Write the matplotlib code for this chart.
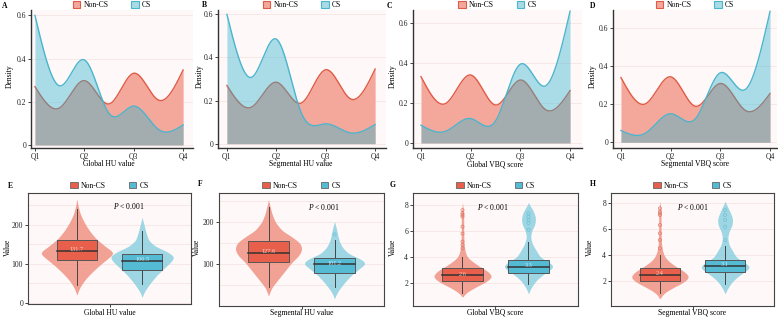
import numpy as np
import matplotlib
matplotlib.use("Agg")
import matplotlib.pyplot as plt
from matplotlib.patches import Patch, Rectangle

plt.rcParams['font.family'] = ['Liberation Serif', 'DejaVu Serif']
plt.rcParams['mathtext.fontset'] = 'custom'
plt.rcParams['mathtext.it'] = 'Liberation Serif:italic'
plt.rcParams['mathtext.rm'] = 'Liberation Serif'

# ---- density panels (A-D): values at Q1, Q1.5, Q2, ... Q4 ----
quartiles = ["Q1", "Q2", "Q3", "Q4"]
knot_x = [0, 0.5, 1, 1.5, 2, 2.5, 3]

a_noncs = [0.27, 0.172, 0.298, 0.19, 0.332, 0.208, 0.347]
a_cs = [0.60, 0.274, 0.394, 0.146, 0.18, 0.072, 0.093]
b_noncs = [0.27, 0.17, 0.285, 0.188, 0.343, 0.208, 0.346]
b_cs = [0.60, 0.308, 0.485, 0.146, 0.092, 0.05, 0.089]
c_noncs = [0.332, 0.198, 0.34, 0.19, 0.315, 0.168, 0.262]
c_cs = [0.089, 0.059, 0.122, 0.11, 0.394, 0.285, 0.659]
d_noncs = [0.34, 0.203, 0.344, 0.189, 0.309, 0.168, 0.256]
d_cs = [0.062, 0.049, 0.15, 0.124, 0.365, 0.277, 0.688]

top_titles = ["Global HU value", "Segmental HU value", "Global VBQ score", "Segmental VBQ score"]
top_letters = ["A", "B", "C", "D"]

# ---- violin panels (E-H) ----
# box stats: lower whisker, q1, median, q3, upper whisker
e_noncs_box = [46, 110, 133, 161, 241]
e_cs_box = [49, 85, 108, 126, 183]
f_noncs_box = [46, 105, 127, 155, 236]
f_cs_box = [46, 79, 100, 114, 157]
g_noncs_box = [1.2, 2.18, 2.6, 3.13, 4.0]
g_cs_box = [1.92, 2.75, 3.25, 3.77, 5.18]
h_noncs_box = [1.05, 2.02, 2.46, 2.97, 4.0]
h_cs_box = [1.77, 2.67, 3.15, 3.62, 4.69]

mean_labels = [["131.7", "106.5"], ["127.6", "101.2"], ["2.6", "3.3"], ["2.4", "3.1"]]

e_noncs_out = []
e_cs_out = []
f_noncs_out = []
f_cs_out = [171]
g_noncs_out = [7.6, 7.36, 7.23, 7.1, 6.33, 5.8, 5.18, 4.92, 4.67]
g_cs_out = [7.36, 7.1, 6.85, 6.6, 6.1]
h_noncs_out = [7.59, 7.33, 7.2, 7.08, 6.31, 5.67, 5.15, 4.51]
h_cs_out = [7.46, 7.08, 6.69, 6.18, 5.15]

# violin outlines: value knots and relative half-width
e_noncs_v = [21, 40, 60, 80, 100, 115, 128, 145, 165, 185, 205, 225, 240, 255, 264]
e_noncs_w = [0, .08, .22, .42, .65, .85, 1.0, .75, .5, .33, .2, .1, .05, .02, 0]
e_cs_v = [15, 30, 50, 70, 90, 105, 118, 130, 145, 160, 180, 200, 218]
e_cs_w = [0, .08, .25, .45, .7, .9, 1.0, .8, .4, .2, .12, .06, 0]
f_noncs_v = [26, 45, 65, 85, 105, 120, 135, 150, 165, 180, 200, 220, 240, 252]
f_noncs_w = [0, .1, .3, .5, .7, .9, 1.0, .95, .7, .4, .2, .1, .04, 0]
f_cs_v = [19, 35, 55, 75, 90, 102, 112, 125, 140, 155, 170, 185, 201]
f_cs_w = [0, .1, .3, .55, .8, 1.0, .85, .45, .25, .15, .1, .06, 0]
g_noncs_v = [0.95, 1.3, 1.7, 2.1, 2.5, 2.9, 3.3, 3.7, 4.0, 4.5, 5.0, 6.0, 7.0, 7.6, 8.15]
g_noncs_w = [0, .15, .45, .8, 1.0, .85, .55, .3, .15, .08, .05, .04, .04, .03, 0]
g_cs_v = [1.2, 1.7, 2.2, 2.7, 3.0, 3.3, 3.6, 4.0, 4.5, 5.0, 5.5, 6.0, 6.5, 7.0, 7.5, 8.15]
g_cs_w = [0, .12, .3, .6, .85, 1.0, .8, .45, .3, .15, .08, .12, .25, .28, .2, 0]
h_noncs_v = [0.67, 1.1, 1.5, 1.9, 2.3, 2.7, 3.1, 3.5, 3.9, 4.4, 5.0, 6.0, 7.0, 7.6, 8.1]
h_noncs_w = [0, .15, .45, .8, 1.0, .85, .55, .3, .15, .08, .05, .04, .04, .03, 0]
h_cs_v = [1.05, 1.5, 2.0, 2.5, 2.8, 3.1, 3.4, 3.8, 4.3, 4.8, 5.3, 5.8, 6.3, 6.8, 7.3, 8.1]
h_cs_w = [0, .12, .3, .6, .85, 1.0, .8, .45, .3, .15, .1, .15, .28, .3, .2, 0]

bottom_letters = ["E", "F", "G", "H"]

RED_LINE = '#E05B45'
RED_FILL = (244/255, 168/255, 156/255)
BLUE_LINE = '#4BB5CE'
BLUE_FILL = (43/255, 179/255, 203/255)
BG = '#FEF8F8'
GRID = '#F6E6E6'

W, H = 778, 319
fig = plt.figure(figsize=(W/100, H/100), dpi=100)


def add_ax(l, t, r, b):
    return fig.add_axes([l/W, 1 - b/H, (r - l)/W, (b - t)/H])


def spline(xk, yk, n=400):
    xk = np.asarray(xk, float)
    yk = np.asarray(yk, float)
    m = len(xk)
    h = np.diff(xk)
    A = np.zeros((m, m))
    rhs = np.zeros(m)
    A[0, 0] = A[-1, -1] = 1
    for i in range(1, m - 1):
        A[i, i-1] = h[i-1]
        A[i, i] = 2 * (h[i-1] + h[i])
        A[i, i+1] = h[i]
        rhs[i] = 6 * ((yk[i+1] - yk[i]) / h[i] - (yk[i] - yk[i-1]) / h[i-1])
    M = np.linalg.solve(A, rhs)
    xs = np.linspace(xk[0], xk[-1], n)
    idx = np.clip(np.searchsorted(xk, xs) - 1, 0, m - 2)
    x0, x1 = xk[idx], xk[idx+1]
    hh = x1 - x0
    t0, t1 = x1 - xs, xs - x0
    ys = (M[idx] * t0**3 + M[idx+1] * t1**3) / (6 * hh) \
        + (yk[idx] / hh - M[idx] * hh / 6) * t0 \
        + (yk[idx+1] / hh - M[idx+1] * hh / 6) * t1
    return xs, ys


def style_ax(ax):
    ax.set_facecolor(BG)
    ax.tick_params(labelsize=5.5, length=2, width=0.6, pad=1.5, colors='#222')
    ax.set_axisbelow(True)


# ---------------- top row ----------------
top_data = [(a_noncs, a_cs), (b_noncs, b_cs), (c_noncs, c_cs), (d_noncs, d_cs)]
top_boxes = [(31, 10, 193, 148), (218, 10, 386, 148), (413, 10, 582, 148), (613, 10, 777, 148)]
top_xlim = [(-0.08, 3.2), (-0.18, 3.22), (-0.16, 3.24), (-0.16, 3.14)]
top_ylim = [(-0.014, 0.625), (-0.02, 0.62), (-0.025, 0.665), (-0.03, 0.695)]
top_q1 = [35, 227, 421, 621]
top_ylab_x = [10, 200, 393, 593]
top_letter_pos = [(5, 6), (204, 5), (389, 6), (593, 6)]

for i in range(4):
    l, t, r, b = top_boxes[i]
    ax = add_ax(l, t, r, b)
    style_ax(ax)
    non, cs = top_data[i]
    xs, yn = spline(knot_x, non)
    _, yc = spline(knot_x, cs)
    ax.fill_between(xs, 0, yn, color=RED_FILL, lw=0, zorder=1)
    ax.plot(xs, yn, color=RED_LINE, lw=1.0, zorder=2)
    ax.fill_between(xs, 0, yc, color=BLUE_FILL, alpha=0.4, lw=0, zorder=3)
    ax.plot(xs, yc, color=BLUE_LINE, lw=1.0, zorder=4)
    ax.set_xlim(*top_xlim[i])
    ax.set_ylim(*top_ylim[i])
    ax.set_xticks(range(4))
    ax.set_xticklabels(quartiles)
    ax.set_yticks([0, 0.2, 0.4, 0.6])
    ax.set_yticklabels(["0", "0.2", "0.4", "0.6"])
    ax.grid(axis='y', color=GRID, lw=0.6)
    for s in ['top', 'right']:
        ax.spines[s].set_visible(False)
    for s in ['left', 'bottom']:
        ax.spines[s].set_color('#333')
        ax.spines[s].set_linewidth(1.0)
    handles = [Patch(facecolor=RED_FILL, edgecolor=RED_LINE, lw=0.8, label="Non-CS"),
               Patch(facecolor=(169/255, 219/255, 229/255), edgecolor=BLUE_LINE, lw=0.8, label="CS")]
    leg_y = (b - 5) / (b - t)
    ax.legend(handles=handles, ncol=2, loc='center', bbox_to_anchor=(0.5, leg_y),
              frameon=False, fontsize=5.5, handlelength=1.0, handleheight=1.0,
              columnspacing=3.0, handletextpad=0.4, borderpad=0, borderaxespad=0)
    cx = top_q1[i] + 74
    fig.text(cx/W, 1 - 164/H, top_titles[i], ha='center', va='center', fontsize=5.5)
    fig.text(top_ylab_x[i]/W, 1 - 76/H, "Density", rotation=90, ha='center', va='center', fontsize=5.5)
    lx, ly = top_letter_pos[i]
    fig.text(lx/W, 1 - ly/H, top_letters[i], ha='center', va='center', fontsize=5.5, fontweight='bold')

# ---------------- bottom row ----------------
bot_box_stats = [(e_noncs_box, e_cs_box), (f_noncs_box, f_cs_box),
                 (g_noncs_box, g_cs_box), (h_noncs_box, h_cs_box)]
bot_outliers = [(e_noncs_out, e_cs_out), (f_noncs_out, f_cs_out),
                (g_noncs_out, g_cs_out), (h_noncs_out, h_cs_out)]
bot_profiles = [((e_noncs_v, e_noncs_w), (e_cs_v, e_cs_w)),
                ((f_noncs_v, f_noncs_w), (f_cs_v, f_cs_w)),
                ((g_noncs_v, g_noncs_w), (g_cs_v, g_cs_w)),
                ((h_noncs_v, h_noncs_w), (h_cs_v, h_cs_w))]
bot_frames = [(28, 193, 191, 304), (219, 193, 384, 306), (413, 193, 578, 306), (611, 193, 774, 306)]
bot_ylim = [(-3, 281), (1, 269), (0.23, 8.92), (0.08, 8.77)]
bot_yticks = [[0, 100, 200], [100, 200], [2, 4, 6, 8], [2, 4, 6, 8]]
bot_grid = [[0, 50, 100, 150, 200, 250], [50, 100, 150, 200, 250], [2, 4, 6, 8], [2, 4, 6, 8]]
bot_maxw = [(0.24, 0.21), (0.22, 0.2), (0.19, 0.16), (0.19, 0.16)]
p_x = [0.13, 0.15, -0.02, 0.0]
bot_ylab_x = [8, 197, 393, 590]
bot_letter_pos = [(10, 186), (200, 184), (393, 185), (593, 184)]

V_COL = ['#F08C7C', '#86CEDF']
B_COL = ['#E8604C', '#55BAD3']
O_COL = ['#E07A6A', '#6FC1D5']
pos = [-0.22, 0.22]
bw = 0.27

for i in range(4):
    l, t, r, b = bot_frames[i]
    ax = add_ax(l, t, r, b)
    style_ax(ax)
    lo_y, hi_y = bot_ylim[i]
    for gy in bot_grid[i]:
        ax.axhline(gy, color=GRID, lw=0.6, zorder=0)
    for k in range(2):
        vals, wts = bot_profiles[i][k]
        yy = np.linspace(vals[0], vals[-1], 300)
        ww = np.interp(yy, vals, wts)
        ker = np.exp(-0.5 * (np.arange(-15, 16) / 6.0) ** 2)
        ker /= ker.sum()
        ww = np.convolve(np.pad(ww, 15), ker, mode='same')[15:-15]
        ww = ww / ww.max() * bot_maxw[i][k]
        ax.fill_betweenx(yy, pos[k] - ww, pos[k] + ww, color=V_COL[k], alpha=0.8, lw=0, zorder=1)
        lo, q1, med, q3, hi = bot_box_stats[i][k]
        ax.plot([pos[k], pos[k]], [lo, hi], color='#444', lw=0.7, zorder=2)
        ax.add_patch(Rectangle((pos[k] - bw/2, q1), bw, q3 - q1, facecolor=B_COL[k],
                               edgecolor='#555', lw=0.7, zorder=3))
        ax.plot([pos[k] - bw/2, pos[k] + bw/2], [med, med], color='#333', lw=1.1, zorder=4)
        outs = bot_outliers[i][k]
        if outs:
            ax.scatter([pos[k]] * len(outs), outs, s=5, facecolors='none',
                       edgecolors=O_COL[k], linewidths=0.5, zorder=5)
        yr = hi_y - lo_y
        ax.text(pos[k], med + 0.01 * yr, mean_labels[i][k], ha='center', va='center',
                fontsize=4.5, color='white', alpha=0.75, zorder=6)
    ax.text(p_x[i], lo_y + 0.88 * (hi_y - lo_y), r"$\it{P}$ < 0.001", ha='center', va='center',
            fontsize=5.5, zorder=6)
    ax.set_xlim(-0.55, 0.55)
    ax.set_ylim(lo_y, hi_y)
    ax.set_xticks([0])
    ax.set_xticklabels([""])
    ax.set_yticks(bot_yticks[i])
    for s in ax.spines.values():
        s.set_color('#444')
        s.set_linewidth(0.8)
    handles = [Patch(facecolor=B_COL[0], edgecolor='#666', lw=0.6, label="Non-CS"),
               Patch(facecolor=B_COL[1], edgecolor='#666', lw=0.6, label="CS")]
    ax.legend(handles=handles, ncol=2, loc='lower center', bbox_to_anchor=(0.5, 1.03),
              frameon=False, fontsize=5.5, handlelength=1.0, handleheight=0.9,
              columnspacing=3.0, handletextpad=0.4, borderpad=0, borderaxespad=0)
    cx = (l + r) / 2
    fig.text(cx/W, 1 - 313/H, top_titles[i], ha='center', va='center', fontsize=5.5)
    fig.text(bot_ylab_x[i]/W, 1 - 247/H, "Value", rotation=90, ha='center', va='center', fontsize=5.5)
    lx, ly = bot_letter_pos[i]
    fig.text(lx/W, 1 - ly/H, bottom_letters[i], ha='center', va='center', fontsize=5.5, fontweight='bold')

fig.savefig("out.png", dpi=100)
